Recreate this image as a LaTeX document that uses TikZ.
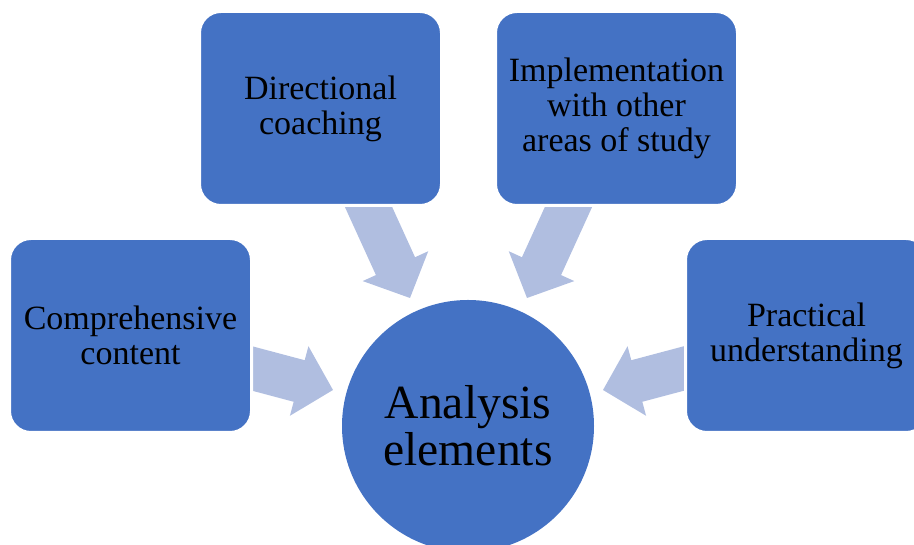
\documentclass[tikz,border=0pt]{standalone}
\usepackage{fontspec}
\setmainfont{Liberation Serif}
\begin{document}
\begin{tikzpicture}[x=1pt,y=1pt,
  boxblue/.style={fill=blueA, draw=white, line width=3pt, rounded corners=21.5pt,
    minimum width=242pt, minimum height=194pt, inner sep=0pt, align=center,
    font=\fontsize{34}{35}\selectfont, text=black},
  hub/.style={circle, fill=blueA, minimum size=252pt, inner sep=0pt, align=center,
    font=\fontsize{47.6}{47}\selectfont, text=black},
  blockarrow/.style={fill=arrowA}]
\definecolor{blueA}{HTML}{4472C4}
\definecolor{arrowA}{HTML}{B0BEE0}
\useasboundingbox (0,0) rectangle (914,545);
% arrow tips
\coordinate (t1) at (410,247);
\coordinate (t2) at (527,247);
\coordinate (t3) at (333,155);
\coordinate (t4) at (603,155);
% block arrows (drawn first, boxes hide their back ends)
\fill[blockarrow, shift={(t1)}, rotate=-65.5]
  (-125,-21.5) -- (-35,-21.5) -- (-35,-36) -- (0,0) -- (-35,36) -- (-35,21.5) -- (-125,21.5) -- cycle;
\fill[blockarrow, shift={(t2)}, rotate=-114.5]
  (-125,-21.5) -- (-35,-21.5) -- (-35,-36) -- (0,0) -- (-35,36) -- (-35,21.5) -- (-125,21.5) -- cycle;
\fill[blockarrow, shift={(t3)}, rotate=-14.9]
  (-110,-21.5) -- (-35,-21.5) -- (-35,-36) -- (0,0) -- (-35,36) -- (-35,21.5) -- (-110,21.5) -- cycle;
\fill[blockarrow, shift={(t4)}, rotate=194.9]
  (-110,-21.5) -- (-35,-21.5) -- (-35,-36) -- (0,0) -- (-35,36) -- (-35,21.5) -- (-110,21.5) -- cycle;
% boxes
\node[boxblue] (dir) at (320.5,436.5) {Directional\\coaching};
\node[boxblue] (impl) at (616.5,436.5) {Implementation\\with other\\areas of study};
\node[boxblue] (comp) at (130.5,209.5) {Comprehensive\\content};
\node[boxblue] (prac) at (806.5,209.5) {Practical\\understanding};
% hub
\node[hub] (ana) at (468,119) {Analysis\\elements};
\end{tikzpicture}
\end{document}
